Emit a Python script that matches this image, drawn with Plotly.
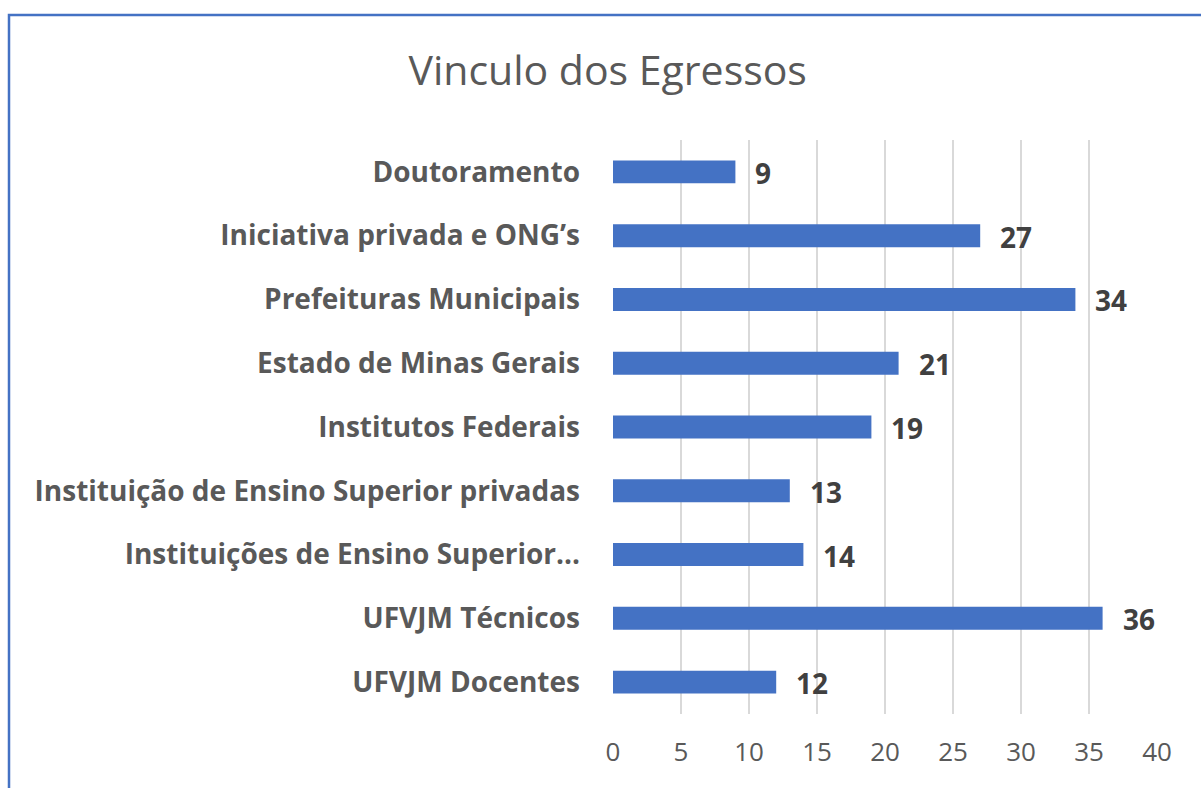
import plotly.graph_objects as go

categories = [
    "UFVJM Docentes",
    "UFVJM Técnicos",
    "Instituições de Ensino Superior...",
    "Instituição de Ensino Superior privadas",
    "Institutos Federais",
    "Estado de Minas Gerais",
    "Prefeituras Municipais",
    "Iniciativa privada e ONG’s",
    "Doutoramento",
]
values = [12, 36, 14, 13, 19, 21, 34, 27, 9]
x_ticks = [0, 5, 10, 15, 20, 25, 30, 35, 40]
title_text = "Vinculo dos Egressos"

BAR = "#4472C4"
GRID = "#D9D9D9"
TXT = "#595959"
FONT = "Open Sans"

fig = go.Figure(
    go.Bar(
        x=values,
        y=categories,
        orientation="h",
        marker=dict(color=BAR, line=dict(width=0)),
        hoverinfo="x+y",
    )
)

annotations = [
    dict(
        x=v, y=c, xref="x", yref="y", text="<b>%d</b>" % v, showarrow=False,
        xanchor="left", yanchor="middle", xshift=18, yshift=-1,
        font=dict(family=FONT, size=28, color="#404040"),
    )
    for c, v in zip(categories, values)
]

fig.update_layout(
    width=1201,
    height=788,
    margin=dict(l=613, r=44, t=140, b=74, pad=0),
    paper_bgcolor="white",
    plot_bgcolor="white",
    bargap=0.64,
    showlegend=False,
    title=dict(
        text=title_text, x=0.506, xref="container", xanchor="center",
        y=0.91, yref="container", yanchor="middle",
        font=dict(family=FONT, size=41, color=TXT),
    ),
    xaxis=dict(
        range=[0, 40], tickvals=x_ticks, showgrid=True, gridcolor=GRID, gridwidth=2,
        zeroline=False, showline=False, ticks="",
        tickfont=dict(family=FONT, size=26, color=TXT),
        ticklabelstandoff=20, fixedrange=True,
    ),
    yaxis=dict(
        showgrid=False, zeroline=False, showline=False, ticks="",
        tickfont=dict(family=FONT, size=28, color=TXT, weight="bold"),
        ticklabelstandoff=32, fixedrange=True,
        categoryorder="array", categoryarray=categories,
    ),
    annotations=annotations,
    shapes=[
        dict(
            type="rect", xref="paper", yref="paper",
            x0=(9 - 613) / 544, x1=1.2, y0=-0.5, y1=(714 - 15) / 574,
            line=dict(color="#4472C4", width=2.5), fillcolor="rgba(0,0,0,0)",
            layer="below",
        )
    ],
)

fig.write_html("out.html")
